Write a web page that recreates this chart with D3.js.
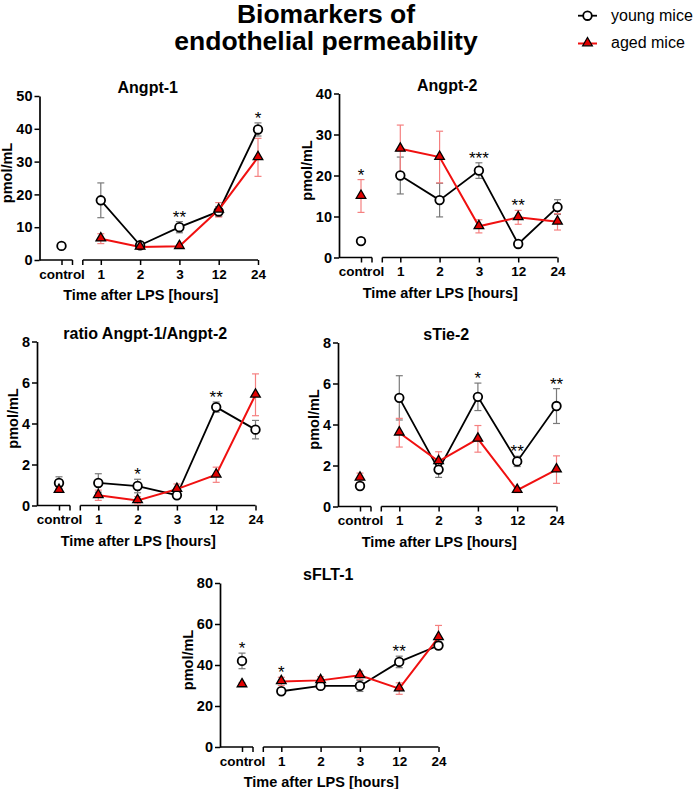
<!DOCTYPE html>
<html>
<head>
<meta charset="utf-8">
<script src="https://cdn.jsdelivr.net/npm/d3@7"></script>
<style>
  body { margin: 0; background: #fff; }
  svg text { font-family: "Liberation Sans", Arial, Helvetica, sans-serif; }
</style>
</head>
<body>
<svg id="chart" width="695" height="789"></svg>
<script>
// categories on the x axis (control is split off by an axis break)
const categories = ["control", "1", "2", "3", "12", "24"];

// Angpt-1
const angpt1Ticks = [0, 10, 20, 30, 40, 50];
const angpt1Young = [4.3, 18.2, 4.5, 10.0, 14.8, 39.8];
const angpt1YoungErr = [0.8, 5.3, 0.6, 1.7, 1.5, 2.0];
const angpt1Aged = [null, 6.5, 4.0, 4.2, 15.3, 31.3];
const angpt1AgedErr = [null, 1.5, 0.5, 0.4, 2.2, 5.8];
const angpt1Stars = ["", "", "", "**", "", "*"];

// Angpt-2
const angpt2Ticks = [0, 10, 20, 30, 40];
const angpt2Young = [4.0, 20.0, 14.0, 21.2, 3.3, 12.3];
const angpt2YoungErr = [0.7, 4.5, 4.1, 1.9, 0.4, 1.8];
const angpt2Aged = [15.0, 26.5, 24.5, 7.6, 9.8, 8.7];
const angpt2AgedErr = [4.0, 5.8, 6.3, 1.6, 1.7, 2.0];
const angpt2Stars = ["*", "", "", "***", "**", ""];

// ratio Angpt-1/Angpt-2
const ratioTicks = [0, 2, 4, 6, 8];
const ratioYoung = [1.1, 1.1, 0.95, 0.5, 4.8, 3.7];
const ratioYoungErr = [0.3, 0.45, 0.33, 0.1, 0.25, 0.45];
const ratioAged = [0.75, 0.5, 0.25, 0.8, 1.5, 5.4];
const ratioAgedErr = [0.1, 0.25, 0.18, 0.25, 0.37, 1.02];
const ratioStars = ["", "", "*", "", "**", ""];

// sTie-2
const tieTicks = [0, 2, 4, 6, 8];
const tieYoung = [1.0, 5.3, 1.8, 5.35, 2.2, 4.9];
const tieYoungErr = [0.08, 1.08, 0.38, 0.67, 0.25, 0.85];
const tieAged = [1.4, 3.6, 2.2, 3.3, 0.8, 1.8];
const tieAgedErr = [0.23, 0.7, 0.47, 0.65, 0.12, 0.67];
const tieStars = ["", "", "", "*", "**", "**"];

// sFLT-1
const fltTicks = [0, 20, 40, 60, 80];
const fltYoung = [42.0, 27.2, 29.8, 29.8, 41.5, 49.5];
const fltYoungErr = [3.8, 1.2, 1.5, 2.7, 2.8, 1.6];
const fltAged = [30.5, 32.0, 32.5, 35.0, 28.5, 53.5];
const fltAgedErr = [0.8, 2.0, 1.8, 2.0, 2.8, 5.8];
const fltStars = ["*", "*", "", "", "**", ""];

const youngColor = "#000";
const youngErrColor = "#7a7a7a";
const agedColor = "#f01010";
const agedErrColor = "#f58080";
const markerRed = "#e00000";

const svg = d3.select("#chart");

// Main title
svg.append("text")
  .attr("x", 326).attr("y", 23)
  .attr("text-anchor", "middle")
  .style("font-size", "26.5px").style("font-weight", "bold")
  .text("Biomarkers of");
svg.append("text")
  .attr("x", 326).attr("y", 50)
  .attr("text-anchor", "middle")
  .style("font-size", "26.5px").style("font-weight", "bold")
  .text("endothelial permeability");

function circleMarker(sel) {
  sel.attr("r", 4.3)
    .attr("fill", "#fff")
    .attr("stroke", youngColor)
    .attr("stroke-width", 1.8);
}
const triPath = d3.symbol().type(d3.symbolTriangle).size(40)();
function triMarker(sel) {
  sel.attr("d", triPath)
    .attr("fill", markerRed)
    .attr("stroke", "#000")
    .attr("stroke-width", 1.3);
}

// Legend
const legend = svg.append("g");
legend.append("line").attr("x1", 578).attr("x2", 597).attr("y1", 15.7).attr("y2", 15.7)
  .attr("stroke", youngColor).attr("stroke-width", 1.8);
legend.append("circle").attr("cx", 587.5).attr("cy", 15.7).call(circleMarker);
legend.append("text").attr("x", 611).attr("y", 21).style("font-size", "16px").text("young mice");
legend.append("line").attr("x1", 578).attr("x2", 597).attr("y1", 43.5).attr("y2", 43.5)
  .attr("stroke", agedColor).attr("stroke-width", 2);
legend.append("path").attr("transform", "translate(587.5,43)").call(triMarker);
legend.append("text").attr("x", 611).attr("y", 48).style("font-size", "16px").text("aged mice");

function drawPanel(cfg) {
  const W = 218.5, H = 164;
  const g = svg.append("g").attr("transform", `translate(${cfg.left},${cfg.top})`);

  const x = d3.scalePoint().domain(categories).range([22, W]);
  const y = d3.scaleLinear().domain([0, cfg.ticks[cfg.ticks.length - 1]]).range([H, 0]);

  // y axis
  const yAxisG = g.append("g")
    .call(d3.axisLeft(y).tickValues(cfg.ticks).tickSize(5).tickPadding(2).tickSizeOuter(0));
  yAxisG.select(".domain").attr("stroke-width", 1.7);
  yAxisG.selectAll(".tick line").attr("stroke-width", 1.5);
  yAxisG.selectAll("text").style("font-size", "14.5px").style("font-weight", "bold")
    .style("font-family", "'Liberation Sans', Arial, sans-serif").attr("fill", "#000");
  // widest tick label decides how far out the y title sits
  let labelW = 0;
  yAxisG.selectAll("text").each(function () { labelW = Math.max(labelW, this.getComputedTextLength()); });

  // x axis with a break after control
  const xAxisG = g.append("g").attr("transform", `translate(0,${H})`)
    .call(d3.axisBottom(x).tickSize(5).tickPadding(4));
  xAxisG.select(".domain").remove();
  xAxisG.selectAll(".tick line").attr("stroke-width", 1.5);
  xAxisG.selectAll("text").style("font-size", "13.5px").style("font-weight", "bold")
    .style("font-family", "'Liberation Sans', Arial, sans-serif").attr("fill", "#000");
  const brk1 = x("control") + 11, brk2 = x("1") - 18;
  const axisLines = [[0, brk1], [brk2, x("24")]];
  xAxisG.selectAll(".seg").data(axisLines).join("line")
    .attr("x1", d => d[0]).attr("x2", d => d[1])
    .attr("stroke", "#000").attr("stroke-width", 1.7);
  xAxisG.selectAll(".cap").data([brk1, brk2]).join("line")
    .attr("x1", d => d).attr("x2", d => d).attr("y1", 0).attr("y2", 5)
    .attr("stroke", "#000").attr("stroke-width", 1.5);

  // titles
  g.append("text").attr("x", W / 2 - 1).attr("y", -3)
    .attr("text-anchor", "middle")
    .style("font-size", "16px").style("font-weight", "bold")
    .text(cfg.title);
  g.append("text").attr("x", W / 2 - 8).attr("y", H + 40)
    .attr("text-anchor", "middle")
    .style("font-size", "14.5px").style("font-weight", "bold")
    .text("Time after LPS [hours]");
  g.append("text")
    .attr("transform", `translate(${-(11 + labelW)},${H / 2 - 5}) rotate(-90)`)
    .attr("text-anchor", "middle")
    .style("font-size", "14.5px").style("font-weight", "bold")
    .text("pmol/mL");

  const series = [
    { vals: cfg.young, errs: cfg.youngErr, color: youngColor, errColor: youngErrColor, kind: "circle" },
    { vals: cfg.aged, errs: cfg.agedErr, color: agedColor, errColor: agedErrColor, kind: "tri" }
  ];

  // error bars
  series.forEach(s => {
    const pts = categories.map((c, i) => ({ c, v: s.vals[i], e: s.errs[i] })).filter(d => d.v != null);
    const eb = g.append("g");
    eb.selectAll(".ev").data(pts).join("line")
      .attr("x1", d => x(d.c)).attr("x2", d => x(d.c))
      .attr("y1", d => y(d.v - d.e)).attr("y2", d => y(d.v + d.e))
      .attr("stroke", s.errColor).attr("stroke-width", 1.2);
    ["-", "+"].forEach(sign => {
      eb.selectAll(".ec" + (sign === "+" ? "p" : "m")).data(pts).join("line")
        .attr("x1", d => x(d.c) - 3.5).attr("x2", d => x(d.c) + 3.5)
        .attr("y1", d => y(sign === "+" ? d.v + d.e : d.v - d.e))
        .attr("y2", d => y(sign === "+" ? d.v + d.e : d.v - d.e))
        .attr("stroke", s.errColor).attr("stroke-width", 1.2);
    });
  });

  // connecting lines (time points only, control stands alone)
  const line = d3.line().x(d => x(d.c)).y(d => y(d.v));
  series.forEach(s => {
    const pts = categories.map((c, i) => ({ c, v: s.vals[i] })).filter(d => d.c !== "control" && d.v != null);
    g.append("path").datum(pts).attr("d", line)
      .attr("fill", "none").attr("stroke", s.color).attr("stroke-width", s.kind === "tri" ? 2 : 1.8);
  });

  // markers
  series.forEach(s => {
    const pts = categories.map((c, i) => ({ c, v: s.vals[i] })).filter(d => d.v != null);
    if (s.kind === "circle") {
      g.append("g").selectAll("circle").data(pts).join("circle")
        .attr("cx", d => x(d.c)).attr("cy", d => y(d.v)).call(circleMarker);
    } else {
      g.append("g").selectAll("path").data(pts).join("path")
        .attr("transform", d => `translate(${x(d.c)},${y(d.v) - 0.5})`).call(triMarker);
    }
  });

  // significance stars
  const starData = categories.map((c, i) => {
    const tops = series.map(s => s.vals[i] == null ? 0 : s.vals[i] + s.errs[i]);
    return { c, s: cfg.stars[i], top: d3.max(tops) };
  }).filter(d => d.s);
  g.append("g").selectAll("text").data(starData).join("text")
    .attr("x", d => x(d.c)).attr("y", d => y(d.top) + 1)
    .attr("text-anchor", "middle")
    .style("font-size", "17px")
    .text(d => d.s);
}

drawPanel({ left: 39.5, top: 96, title: "Angpt-1", ticks: angpt1Ticks,
  young: angpt1Young, youngErr: angpt1YoungErr, aged: angpt1Aged, agedErr: angpt1AgedErr, stars: angpt1Stars });
drawPanel({ left: 339, top: 93.5, title: "Angpt-2", ticks: angpt2Ticks,
  young: angpt2Young, youngErr: angpt2YoungErr, aged: angpt2Aged, agedErr: angpt2AgedErr, stars: angpt2Stars });
drawPanel({ left: 37, top: 341.5, title: "ratio Angpt-1/Angpt-2", ticks: ratioTicks,
  young: ratioYoung, youngErr: ratioYoungErr, aged: ratioAged, agedErr: ratioAgedErr, stars: ratioStars });
drawPanel({ left: 338, top: 342.5, title: "sTie-2", ticks: tieTicks,
  young: tieYoung, youngErr: tieYoungErr, aged: tieAged, agedErr: tieAgedErr, stars: tieStars });
drawPanel({ left: 220, top: 583, title: "sFLT-1", ticks: fltTicks,
  young: fltYoung, youngErr: fltYoungErr, aged: fltAged, agedErr: fltAgedErr, stars: fltStars });
</script>
</body>
</html>
